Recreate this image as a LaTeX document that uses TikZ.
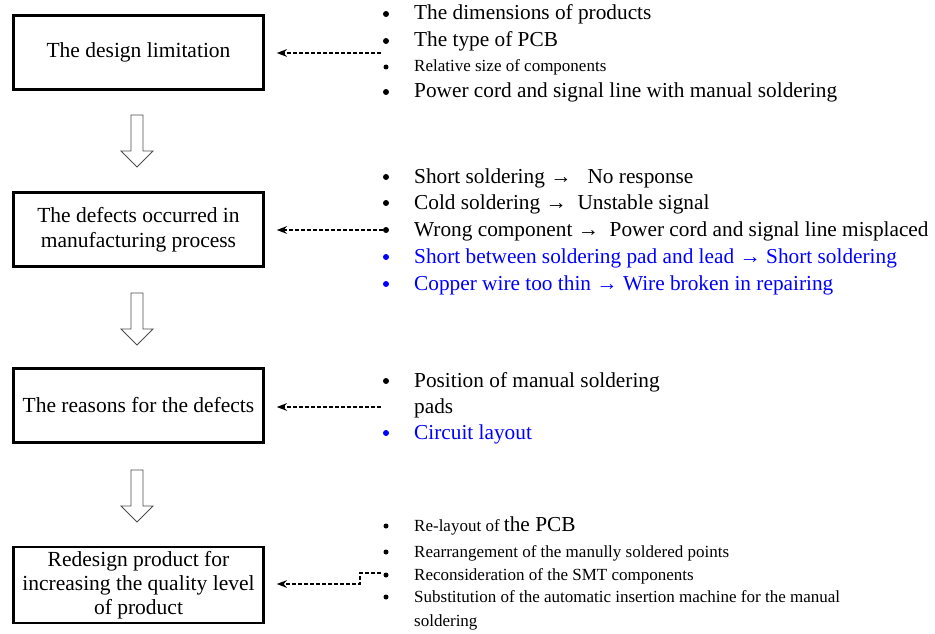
\documentclass[tikz,border=0pt]{standalone}
\usepackage{fontspec}
\setmainfont{Liberation Serif}
\usetikzlibrary{arrows.meta, positioning}

\begin{document}
\begin{tikzpicture}[x=1pt, y=-1pt, >=Stealth,
  box/.style={draw, line width=2.5pt, minimum width=250pt, minimum height=74pt,
    inner xsep=2pt, inner ysep=0.5pt, align=center, font=\fontsize{21.5}{25}\selectfont},
  item/.style={anchor=base west, inner sep=0pt, font=\fontsize{21.3}{26}\selectfont},
  smallitem/.style={item, font=\fontsize{17}{20}\selectfont},
  dot/.style={circle, fill, inner sep=0pt, minimum size=6pt},
  smalldot/.style={dot, minimum size=5pt},
  link/.style={->, line width=1.6pt, dash pattern=on 4pt off 2pt, shorten >=12pt}]

\useasboundingbox (0,0) rectangle (935,634);

% Boxes on the left
\node[box] (design) at (138.5,52.5) {The design limitation};
\node[box] (defects) at (138.5,229.5) {The defects occurred in\\manufacturing process};
\node[box] (reasons) at (138.5,405.5) {The reasons for the defects};
\node[box, minimum height=76pt, font=\fontsize{21.5}{24}\selectfont] (redesign) at (138.5,585)
  {Redesign product for\\increasing the quality level\\of product};

% Hollow arrows between boxes
\foreach \t in {115,293,470}
  \draw[line width=0.8pt, draw=black!70] (131,\t) -- (143,\t) -- (143,\t+36) -- (153,\t+36)
    -- (137,\t+52) -- (121,\t+36) -- (131,\t+36) -- cycle;

% List 1: design limitation
\node[dot] (d11) at (386,14) {};
\node[item] (l11) at (414,20) {The dimensions of products};
\node[dot] (d12) at (386,41) {};
\node[item] (l12) at (414,47) {The type of PCB};
\node[smalldot] (d13) at (386,67) {};
\node[smallitem] (l13) at (414,72) {Relative size of components};
\node[dot] (d14) at (386,92) {};
\node[item] (l14) at (414,98) {Power cord and signal line with manual soldering};

% List 2: defects
\node[dot] (d21) at (386,177) {};
\node[item] (l21) at (414,183) {Short soldering →\ \ \ No response};
\node[dot] (d22) at (386,203) {};
\node[item] (l22) at (414,209) {Cold soldering →\ \ Unstable signal};
\node[dot] (d23) at (386,230) {};
\node[item] (l23) at (414,236) {Wrong component →\ \ Power cord and signal line misplaced};
\node[dot, blue] (d24) at (386,257) {};
\node[item, blue] (l24) at (414,263) {Short between soldering pad and lead → Short soldering};
\node[dot, blue] (d25) at (386,284) {};
\node[item, blue] (l25) at (414,290) {Copper wire too thin → Wire broken in repairing};

% List 3: reasons
\node[dot] (d31) at (386,381) {};
\node[item] (l31) at (414,387) {Position of manual soldering};
\node[item] (l32) at (414,413) {pads};
\node[dot, blue] (d33) at (386,433) {};
\node[item, blue] (l33) at (414,439) {Circuit layout};

% List 4: redesign
\node[smalldot] (d41) at (386,526) {};
\node[smallitem] (l41) at (414,531) {Re-layout of \fontsize{21.3}{26}\selectfont the PCB};
\node[smalldot] (d42) at (386,552) {};
\node[smallitem] (l42) at (414,557) {Rearrangement of the manully soldered points};
\node[smalldot] (d43) at (386,575) {};
\node[smallitem] (l43) at (414,580) {Reconsideration of the SMT components};
\node[smalldot] (d44) at (386,597) {};
\node[smallitem] (l44) at (414,602) {Substitution of the automatic insertion machine for the manual};
\node[smallitem] (l45) at (414,626) {soldering};

% Dashed links to the boxes
\coordinate (c1) at (381,53);
\coordinate (c3) at (381,407);
\coordinate (c4) at (381,573);
\coordinate (k4) at (360,584);
\draw[link] (c1) -- (c1 -| design.east);
\draw[link] (d23.west) -- (d23 -| defects.east);
\draw[link] (c3) -- (c3 -| reasons.east);
\draw[link] (c4) -| (k4) -- (k4 -| redesign.east);

\end{tikzpicture}
\end{document}
